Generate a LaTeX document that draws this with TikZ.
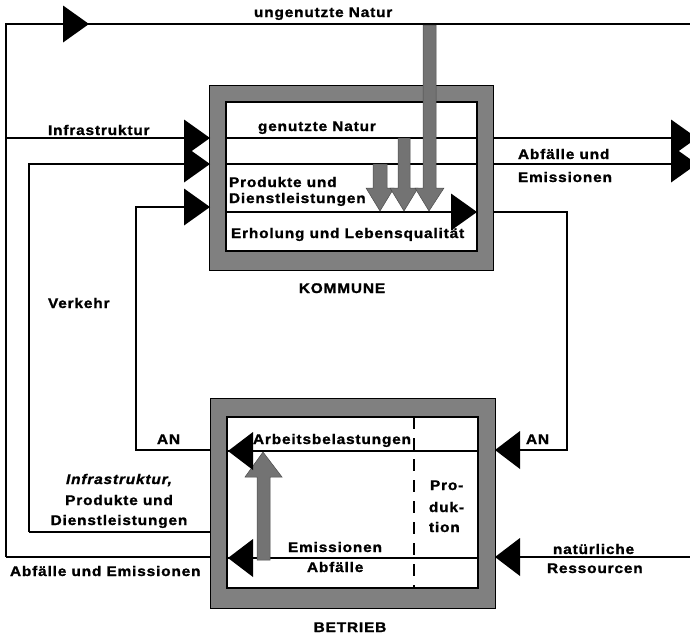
\documentclass[tikz,border=0pt]{standalone}
\usepackage{fontspec}
\newfontfamily\labfont{Liberation Sans Bold}[FakeStretch=1.1,LetterSpace=6,FakeBold=1.3,ItalicFont={Liberation Sans Bold Italic}]
\begin{document}
\begin{tikzpicture}[x=1pt,y=-1pt,
  lab/.style={font=\labfont\fontsize{14}{16}\selectfont, inner sep=0pt, outer sep=0pt, anchor=base west},
  labc/.style={lab, anchor=base},
  flow/.style={line width=1.1pt},
  outerbox/.style={draw=black, line width=0.6pt, fill=black!50, inner sep=0pt, outer sep=0pt, anchor=north west},
  innerbox/.style={draw=black, line width=1.6pt, fill=white, inner sep=0pt, outer sep=0pt, anchor=north west},
  garrow/.style={fill=black!55, draw=black!70, line width=0.5pt},
  pics/tipR/.style={code={\fill (0,0) -- (-26,-18.5) -- (-26,18.5) -- cycle;}},
  pics/tipL/.style={code={\fill (0,0) -- (25,-19) -- (25,19) -- cycle;}},
]
\useasboundingbox (0,0) rectangle (690,637);
\clip (0,0) rectangle (690,637);

% named points of the connectors
\coordinate (tl) at (6,24);
\coordinate (tr) at (690,24);
\coordinate (bl) at (6,557);
\coordinate (inL) at (6,138);
\coordinate (pTop) at (29,164);
\coordinate (pBot) at (29,532);
\coordinate (vTop) at (136,207);
\coordinate (vBot) at (136,450);
\coordinate (rTop) at (567,212);
\coordinate (rBot) at (567,450);
\coordinate (nR) at (690,557);
\coordinate (aR1) at (697,138);
\coordinate (aR2) at (697,164);

% outer connectors
\draw[flow] (bl) -- (tl) -- (tr);
\draw[flow] (inL) -- (210,138);
\draw[flow] (pBot) -- (pTop) -- (210,164);
\draw[flow] (210,532) -- (pBot);
\draw[flow] (210,207) -- (vTop) -- (vBot) -- (210,450);
\draw[flow] (bl) -- (210,557);
\draw[flow] (493,138) -- (aR1);
\draw[flow] (493,164) -- (aR2);
\draw[flow] (493,212) -- (rTop) -- (rBot) -- (495,450);
\draw[flow] (nR) -- (495,557);

% boxes
\node[outerbox, minimum width=284, minimum height=185] (kommune) at (209,85) {};
\node[innerbox, minimum width=251, minimum height=149] (kin) at (226,102) {};
\node[outerbox, minimum width=285, minimum height=210] (betrieb) at (210,398) {};
\node[innerbox, minimum width=251, minimum height=171] (bin) at (227,417) {};

% inner lines
\draw[flow] (226,138) -- (477,138);
\draw[flow] (226,164) -- (477,164);
\draw[flow] (226,212) -- (477,212);
\draw[flow] (227,451) -- (478,451);
\draw[flow] (227,558) -- (478,558);
\draw[line width=1.3pt, dash pattern=on 12pt off 9pt] (414,417) -- (414,588);

% gray arrows
\draw[garrow] (373,164) -- (373,188) -- (366,188) -- (380,211) -- (394,188) -- (387,188) -- (387,164) -- cycle;
\draw[garrow] (398,138) -- (398,188) -- (390,188) -- (404,211) -- (418,188) -- (410,188) -- (410,138) -- cycle;
\draw[garrow] (423,25) -- (423,188) -- (415,188) -- (429,211) -- (444,188) -- (436,188) -- (436,25) -- cycle;
\draw[garrow] (257,560) -- (257,477) -- (245,477) -- (263,452) -- (282,477) -- (270,477) -- (270,560) -- cycle;

% black arrowheads
\pic at (89,24) {tipR};
\pic at (210,138) {tipR};
\pic at (210,164) {tipR};
\pic at (210,207) {tipR};
\pic at (aR1) {tipR};
\pic at (aR2) {tipR};
\pic at (477,212) {tipR};
\pic at (228,451) {tipL};
\pic at (228,558) {tipL};
\pic at (495,450) {tipL};
\pic at (495,557) {tipL};

% texts
\node[lab] (tUng) at (254,17) {ungenutzte Natur};
\node[lab] (tInfra) at (48,135) {Infrastruktur};
\node[lab] (tGen) at (258,131) {genutzte Natur};
\node[lab] (tProd) at (229,187) {Produkte und};
\node[lab] (tDienst) at (229,203) {Dienstleistungen};
\node[lab] (tErh) at (231,238) {Erholung und Lebensqualität};
\node[lab] (tAbf1) at (518,159) {Abfälle und};
\node[lab] (tAbf2) at (518,182) {Emissionen};
\node[labc] (tKomm) at (342,293) {KOMMUNE};
\node[lab] (tVerk) at (48,308) {Verkehr};
\node[lab] (tAN1) at (157,444) {AN};
\node[labc] (tIPD1) at (119,484) {\itshape Infrastruktur,};
\node[labc] (tIPD2) at (119,505) {Produkte und};
\node[labc] (tIPD3) at (119,525) {Dienstleistungen};
\node[lab] (tAE) at (10,576) {Abfälle und Emissionen};
\node[lab] (tArb) at (253,444) {Arbeitsbelastungen};
\node[lab] (tPro1) at (430,490) {Pro-};
\node[lab] (tPro2) at (429,512) {duk-};
\node[lab] (tPro3) at (429,532) {tion};
\node[lab] (tEm) at (288,552) {Emissionen};
\node[lab] (tAbf) at (307,572) {Abfälle};
\node[lab] (tAN2) at (526,444) {AN};
\node[lab] (tNat1) at (553,554) {natürliche};
\node[lab] (tNat2) at (547,573) {Ressourcen};
\node[labc] (tBetr) at (350,632) {BETRIEB};
\end{tikzpicture}
\end{document}
